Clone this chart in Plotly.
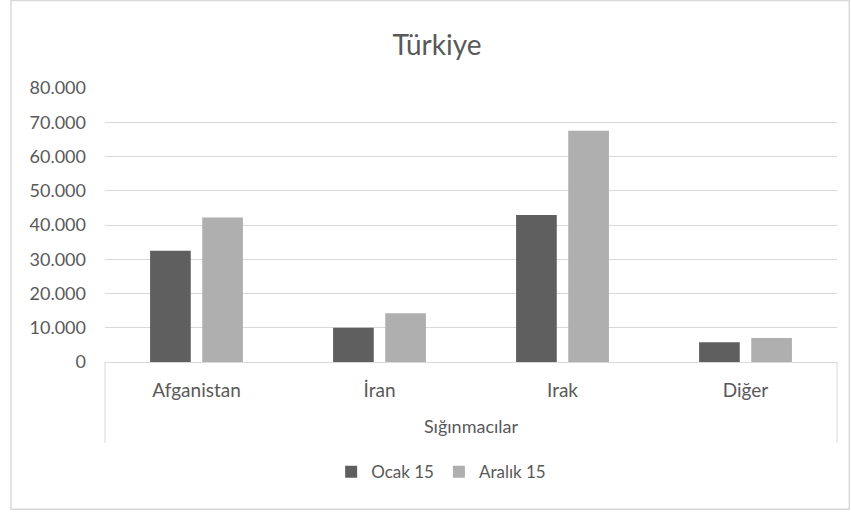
import plotly.graph_objects as go

categories = ["Afganistan", "İran", "Irak", "Diğer"]
ocak_15 = [32500, 10000, 42900, 5750]
aralik_15 = [42200, 14200, 67500, 7000]
series_names = ["Ocak 15", "Aralık 15"]
y_tickvals = [0, 10000, 20000, 30000, 40000, 50000, 60000, 70000, 80000]

W, H = 851, 513
L, R, T, B = 105, 836.7, 88.3, 362.0
pw, ph = R - L, B - T

def px_x(x):
    return (x - L) / pw

def px_y(y):
    return (B - y) / ph

FONT = "Lato"
TXT = "#595959"

fig = go.Figure()
fig.add_trace(go.Bar(x=categories, y=ocak_15, name=series_names[0],
                     marker=dict(color="#5f5f5f", line=dict(width=0))))
fig.add_trace(go.Bar(x=categories, y=aralik_15, name=series_names[1],
                     marker=dict(color="#afafaf", line=dict(width=0))))

shapes = [
    # multi-level axis bracket
    dict(type="line", xref="paper", yref="paper", x0=0, x1=0, y0=0, y1=px_y(443),
         line=dict(color="#d9d9d9", width=1)),
    dict(type="line", xref="paper", yref="paper", x0=1, x1=1, y0=0, y1=px_y(443),
         line=dict(color="#d9d9d9", width=1)),
    # chart border
    dict(type="rect", xref="paper", yref="paper", x0=px_x(11), x1=px_x(849),
         y0=px_y(509), y1=px_y(1), line=dict(color="#d9d9d9", width=1.5),
         fillcolor="rgba(0,0,0,0)", layer="below"),
]

fig.update_layout(
    width=W, height=H,
    margin=dict(l=L, r=W - R, t=T, b=H - B, pad=0),
    paper_bgcolor="white", plot_bgcolor="white",
    separators=",.",
    font=dict(family=FONT, color=TXT, size=17),
    title=dict(text="Türkiye", x=437 / W, xanchor="center", xref="container",
               y=1 - 45 / H, yanchor="middle", yref="container",
               font=dict(family=FONT, size=28, color=TXT)),
    barmode="group", bargap=0.43, bargroupgap=0.22,
    showlegend=True,
    legend=dict(orientation="h", x=px_x(441), xanchor="center", y=px_y(472),
                yanchor="middle", font=dict(family=FONT, size=17, color=TXT),
                itemwidth=30, traceorder="normal", bgcolor="rgba(0,0,0,0)"),
    shapes=shapes,
)

fig.update_xaxes(
    showline=True, linecolor="#d9d9d9", linewidth=1,
    ticks="", showgrid=False,
    ticklabelstandoff=11,
    tickfont=dict(family=FONT, size=19, color=TXT),
    title=dict(text="Sığınmacılar", standoff=20,
               font=dict(family=FONT, size=18, color=TXT)),
)
fig.update_yaxes(
    range=[0, 80000], tickvals=y_tickvals, tickformat=",d",
    showgrid=True, gridcolor="#d9d9d9", gridwidth=1,
    zeroline=False, showline=False, ticks="",
    ticklabelstandoff=18,
    tickfont=dict(family=FONT, size=18, color=TXT),
)

fig.write_html(
    "out.html",
    config={"displayModeBar": False},
    post_script="document.body.style.margin='0';document.body.style.overflow='hidden';",
)
